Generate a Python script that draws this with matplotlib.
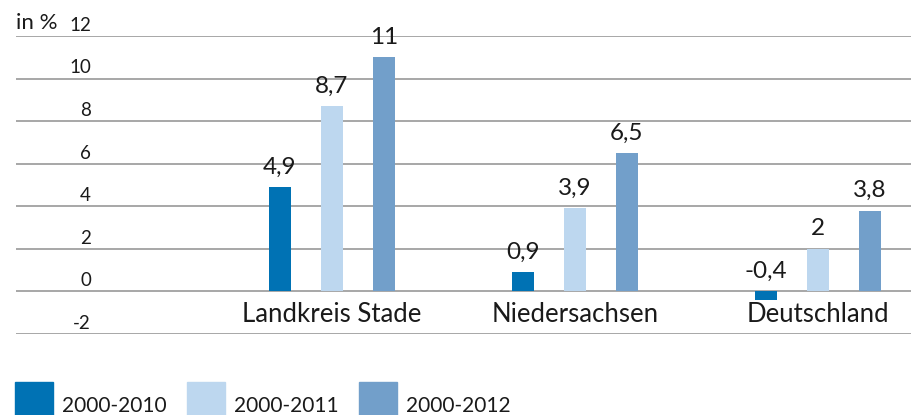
import matplotlib.pyplot as plt
from matplotlib.patches import Rectangle
from matplotlib.transforms import blended_transform_factory

# data
regionen = ["Landkreis Stade", "Niedersachsen", "Deutschland"]
zeitraeume = ["2000-2010", "2000-2011", "2000-2012"]
werte_2010 = [4.9, 0.9, -0.4]
werte_2011 = [8.7, 3.9, 2.0]
werte_2012 = [11.0, 6.5, 3.8]
y_ticks = [-2, 0, 2, 4, 6, 8, 10, 12]

farben = ["#0072B4", "#BDD7EF", "#729FCA"]
plt.rcParams["font.family"] = ["Lato", "DejaVu Sans"]

fig = plt.figure(figsize=(9.12, 4.15), dpi=100)
W, H = 912, 415
# axes: x from 16 px to 912 px, y: 12 at 36 px, -2 at 334 px
ax = fig.add_axes([16 / W, 1 - 334 / H, 1 - 16 / W, (334 - 36) / H])
ax.set_ylim(-2, 12)
ax.set_xlim(-1.30, 2.387)

for y in y_ticks:
    ax.axhline(y, color="#a0a0a0", lw=1.3, zorder=0)

abstand = 0.214
breite = 0.09
for i, (serie, farbe) in enumerate(zip([werte_2010, werte_2011, werte_2012], farben)):
    xs = [k + (i - 1) * abstand for k in range(len(regionen))]
    ax.bar(xs, serie, width=breite, color=farbe, zorder=2)
    for x, v in zip(xs, serie):
        txt = f"{v:g}".replace(".", ",")
        yy = max(v, 0) + 0.45
        ax.text(x, yy, txt, ha="center", va="bottom", fontsize=17.5, color="#1a1a1a")

for k, name in enumerate(regionen):
    ax.text(k, -1.08, name, ha="center", va="center", fontsize=18.5, color="#1a1a1a")

ax.set_xticks([])
ax.set_yticks([])
for s in ax.spines.values():
    s.set_visible(False)

trans = blended_transform_factory(fig.transFigure, ax.transData)
for y in y_ticks:
    ax.text(91 / W, y + 0.5, str(y), transform=trans, ha="right", va="center",
            fontsize=13.5, color="#1a1a1a")
fig.text(16 / W, 1 - 23 / H, "in %", ha="left", va="center", fontsize=16, color="#1a1a1a")

# legend
leg_x = [15, 187, 359]
for x0, farbe, lab in zip(leg_x, farben, zeitraeume):
    fig.patches.append(Rectangle((x0 / W, 0), 38 / W, 33 / H, transform=fig.transFigure,
                                 color=farbe))
    fig.text((x0 + 47) / W, 1 - 412 / H, lab, ha="left", va="baseline", fontsize=15,
             color="#1a1a1a")

fig.savefig("out.png", dpi=100)
